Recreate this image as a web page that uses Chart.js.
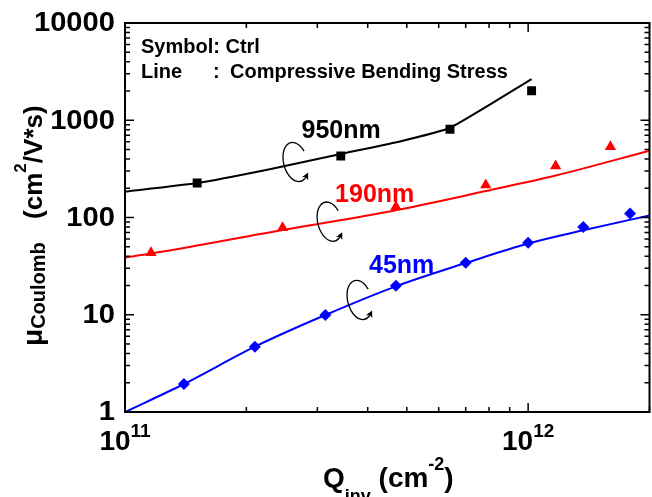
<!DOCTYPE html>
<html>
<head>
<meta charset="utf-8">
<script src="https://cdn.jsdelivr.net/npm/chart.js@4.4.0/dist/chart.umd.min.js"></script>
<style>
    html, body { margin: 0; padding: 0; background: #fff; overflow: hidden; }
    #wrap { width: 656px; height: 497px; }
</style>
</head>
<body>
<div id="wrap"><canvas id="myChart" width="656" height="497"></canvas></div>
<script>
// Symbols: Ctrl
const ctrl950X = [1.51e11, 3.43e11, 6.40e11, 1.02e12];
const ctrl950Y = [226, 429, 807, 2013];
const ctrl190X = [1.16e11, 2.46e11, 4.70e11, 7.85e11, 1.17e12, 1.60e12];
const ctrl190Y = [43.5, 78.5, 129, 216, 339, 535];
const ctrl45X = [1.40e11, 2.10e11, 3.14e11, 4.70e11, 7.0e11, 1.0e12, 1.37e12, 1.79e12];
const ctrl45Y = [1.94, 4.70, 9.94, 19.9, 34.3, 55, 80, 110];

// Lines: Compressive Bending Stress
const cbs950X = [1e11, 1.51e11, 2.27e11, 3.43e11, 4.74e11, 6.40e11, 1.02e12];
const cbs950Y = [184, 226, 312, 450, 597, 837, 2654];
const cbs190X = [1e11, 1.16e11, 2.46e11, 4.70e11, 7.85e11, 1.17e12, 2e12];
const cbs190Y = [38.8, 42.6, 74.4, 119, 187, 270, 486];
const cbs45X = [1e11, 1.40e11, 2.10e11, 3.14e11, 4.70e11, 7.0e11, 1.0e12, 1.37e12, 2e12];
const cbs45Y = [1, 1.94, 4.70, 9.94, 19.6, 34, 54, 73.8, 105];

// axes
const yTickValues = [1, 10, 100, 1000, 10000];
const yTickLabels = ['1', '10', '100', '1000', '10000'];
const xTickValues = [1e11, 1e12];
const xTickExps = ['11', '12'];

// annotations (data coords)
const curveNames = ['950nm', '190nm', '45nm'];
const curveColors = ['#000000', '#ff0000', '#0000ff'];
const nameX = [2.74e11, 3.32e11, 4.03e11];
const nameY = [657, 144, 26.9];
const loopX = [2.65e11, 3.22e11, 3.82e11];
const loopY = [372, 90.6, 14.2];

const FONT = '"Liberation Sans", Arial, Helvetica, sans-serif';

function pts(xs, ys) {
    return xs.map((x, i) => ({ x: x, y: ys[i] }));
}

function richText(ctx, parts, x, y) {
    let cx = x;
    parts.forEach(([t, size, dy]) => {
        ctx.font = `bold ${size}px ${FONT}`;
        ctx.fillText(t, cx, y + dy);
        cx += ctx.measureText(t).width;
    });
}

function richWidth(ctx, parts) {
    let w = 0;
    parts.forEach(([t, size]) => {
        ctx.font = `bold ${size}px ${FONT}`;
        w += ctx.measureText(t).width;
    });
    return w;
}

function drawLoop(ctx, cx, cy) {
    const rx = 12, ry = 20;
    const t0 = -25 * Math.PI / 180, t1 = 55 * Math.PI / 180;
    ctx.save();
    ctx.translate(cx, cy);
    ctx.rotate(-0.25);
    ctx.beginPath();
    ctx.ellipse(0, 0, rx, ry, 0, t0, t1, true);
    ctx.stroke();
    // arrow head at the end, moving with decreasing angle
    const ex = rx * Math.cos(t1), ey = ry * Math.sin(t1);
    let dx = rx * Math.sin(t1), dy = -ry * Math.cos(t1);
    const l = Math.hypot(dx, dy); dx /= l; dy /= l;
    const px = -dy, py = dx;
    ctx.beginPath();
    ctx.moveTo(ex + dx * 4, ey + dy * 4);
    ctx.lineTo(ex - dx * 3 + px * 3.5, ey - dy * 3 + py * 3.5);
    ctx.lineTo(ex - dx * 1, ey - dy * 1);
    ctx.lineTo(ex - dx * 3 - px * 3.5, ey - dy * 3 - py * 3.5);
    ctx.closePath();
    ctx.fill();
    ctx.restore();
}

const decor = {
    id: 'decor',
    afterDraw(chart) {
        const ctx = chart.ctx, a = chart.chartArea;
        const xs = chart.scales.x, ys = chart.scales.y;
        ctx.save();
        ctx.strokeStyle = '#000';
        ctx.fillStyle = '#000';
        ctx.lineWidth = 2;
        ctx.strokeRect(a.left, a.top, a.right - a.left, a.bottom - a.top);

        // inward ticks
        ctx.lineWidth = 1.5;
        ctx.beginPath();
        for (let d = 1; d < 10000; d *= 10) {
            for (let m = 1; m <= 10; m++) {
                const py = ys.getPixelForValue(d * m);
                const len = (m === 1 || m === 10) ? 9 : 5;
                ctx.moveTo(a.left, py); ctx.lineTo(a.left + len, py);
                ctx.moveTo(a.right, py); ctx.lineTo(a.right - len, py);
            }
        }
        [1e11, 1e12].forEach((d) => {
            for (let m = 1; m <= 9; m++) {
                const v = d * m;
                if (v > 2e12) break;
                const px = xs.getPixelForValue(v);
                const len = m === 1 ? 9 : 5;
                ctx.moveTo(px, a.bottom); ctx.lineTo(px, a.bottom - len);
                ctx.moveTo(px, a.top); ctx.lineTo(px, a.top + len);
            }
        });
        ctx.stroke();

        // y tick labels
        ctx.textAlign = 'right';
        ctx.textBaseline = 'middle';
        ctx.font = `bold 27px ${FONT}`;
        yTickValues.forEach((v, i) => {
            const py = ys.getPixelForValue(v);
            ctx.save();
            ctx.translate(a.left - 10, py + 1);
            ctx.scale(1.08, 1);
            ctx.fillText(yTickLabels[i], 0, 0);
            ctx.restore();
        });

        // x tick labels
        ctx.textAlign = 'left';
        ctx.textBaseline = 'alphabetic';
        xTickValues.forEach((v, i) => {
            const parts = [['10', 28, 0], [xTickExps[i], 19, -13]];
            const w = richWidth(ctx, parts);
            richText(ctx, parts, xs.getPixelForValue(v) - w / 2, 450);
        });

        // axis titles
        richText(ctx, [['Q', 28, 0], ['inv', 18, 15], [' (cm', 28, 0], ['-2', 18, -17], [')', 28, 0]], 323, 487);

        ctx.save();
        ctx.translate(42, 346);
        ctx.rotate(-Math.PI / 2);
        richText(ctx, [['\u03bc', 28, 0], ['Coulomb', 20, 3], ['   ', 28, 0], ['(cm', 26, 0], ['2', 17, -16], ['/V*s)', 26, 0]], 0, 0);
        ctx.restore();

        // legend notes
        ctx.font = `bold 20px ${FONT}`;
        ctx.fillText('Symbol: Ctrl', a.left + 16, 53);
        ctx.fillText('Line', a.left + 16, 78);
        ctx.fillText(':', a.left + 88, 78);
        ctx.fillText('Compressive Bending Stress', a.left + 105, 78);

        // curve names and loops
        ctx.font = `bold 25px ${FONT}`;
        curveNames.forEach((name, i) => {
            ctx.fillStyle = curveColors[i];
            ctx.fillText(name, xs.getPixelForValue(nameX[i]), ys.getPixelForValue(nameY[i]));
        });
        ctx.fillStyle = '#000';
        ctx.lineWidth = 1.3;
        loopX.forEach((x, i) => {
            drawLoop(ctx, xs.getPixelForValue(x), ys.getPixelForValue(loopY[i]));
        });
        ctx.restore();
    }
};

const ctx = document.getElementById('myChart');
const myChart = new Chart(ctx, {
    type: 'scatter',
    data: {
        datasets: [
            { data: pts(ctrl950X, ctrl950Y), pointStyle: 'rect', pointRadius: 6.3, backgroundColor: '#000', borderColor: '#000', borderWidth: 0 },
            { data: pts(ctrl190X, ctrl190Y), pointStyle: 'triangle', pointRadius: 6.5, backgroundColor: '#ff0000', borderColor: '#ff0000', borderWidth: 0 },
            { data: pts(ctrl45X, ctrl45Y), pointStyle: 'rectRot', pointRadius: 6, backgroundColor: '#0000ff', borderColor: '#0000ff', borderWidth: 0 },
            { data: pts(cbs950X, cbs950Y), showLine: true, pointRadius: 0, borderColor: '#000', borderWidth: 2, tension: 0.15 },
            { data: pts(cbs190X, cbs190Y), showLine: true, pointRadius: 0, borderColor: '#ff0000', borderWidth: 2, cubicInterpolationMode: 'monotone' },
            { data: pts(cbs45X, cbs45Y), showLine: true, pointRadius: 0, borderColor: '#0000ff', borderWidth: 2, cubicInterpolationMode: 'monotone' }
        ]
    },
    options: {
        responsive: false,
        animation: false,
        layout: { padding: { left: 125, top: 23, right: 2, bottom: 85 } },
        scales: {
            x: { type: 'logarithmic', min: 1e11, max: 2e12, display: false },
            y: { type: 'logarithmic', min: 1, max: 10000, display: false }
        },
        plugins: {
            legend: { display: false },
            tooltip: { enabled: false }
        }
    },
    plugins: [decor]
});
</script>
</body>
</html>
